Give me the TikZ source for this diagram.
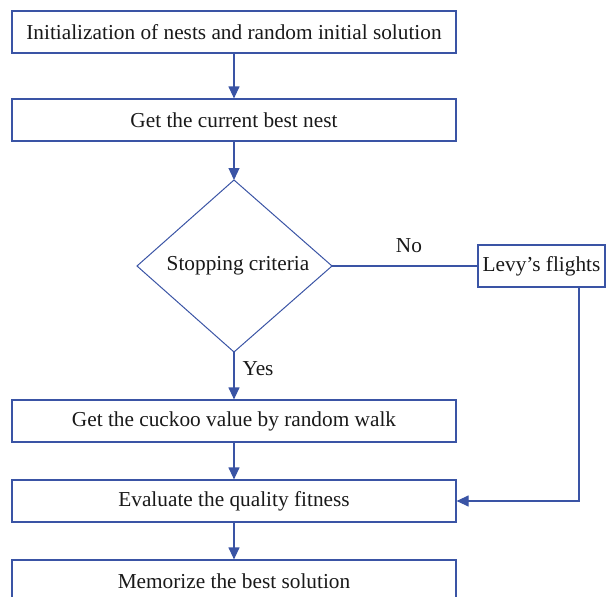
\documentclass[tikz,border=0pt]{standalone}
\usepackage{fontspec}
\setmainfont{Liberation Serif}
\usetikzlibrary{arrows.meta}
\definecolor{fblue}{HTML}{3A54A5}
\begin{document}
\begin{tikzpicture}[x=1pt,y=-1pt,
  boxst/.style={draw=fblue, line width=1.2pt, minimum width=444pt, minimum height=42pt, inner sep=0pt, font=\fontsize{21.3}{24}\selectfont, text=black!90},
  lbl/.style={font=\fontsize{21.3}{24}\selectfont, text=black!90, inner sep=0pt},
  conn/.style={draw=fblue, line width=1.2pt},
  arr/.style={conn, -{Triangle[length=12pt,width=11pt]}}]
\useasboundingbox (0,0) rectangle (606,597);
\clip (0,0) rectangle (606,597);
\node[boxst] (b1) at (234,32) {Initialization of nests and random initial solution};
\node[boxst] (b2) at (234,120) {Get the current best nest};
\draw[conn, line width=1pt] (234,180) -- (332,266) -- (234,352) -- (137,266) -- cycle;
\coordinate (dtop) at (234,180);
\coordinate (dright) at (332,266);
\coordinate (dbot) at (234,352);
\node[lbl] (dtext) at (238,266) {Stopping criteria};
\node[boxst, minimum width=127pt] (lev) at (541.5,266) {Levy's flights};
\node[boxst] (b3) at (234,421) {Get the cuckoo value by random walk};
\node[boxst] (b4) at (234,501) {Evaluate the quality fitness};
\node[boxst] (b5) at (234,581) {Memorize the best solution};
\node[lbl] (no) at (409,246) {No};
\node[lbl] (yes) at (258,369) {Yes};
\draw[arr] (b1) -- (b2);
\draw[arr] (b2) -- (dtop);
\draw[conn] (dright) -- (lev);
\draw[arr] (dbot) -- (b3);
\draw[arr] (b3) -- (b4);
\draw[arr] (b4) -- (b5);
\draw[arr] (lev.south -| 579,0) -- (579,501) -- (b4.east);
\end{tikzpicture}
\end{document}
